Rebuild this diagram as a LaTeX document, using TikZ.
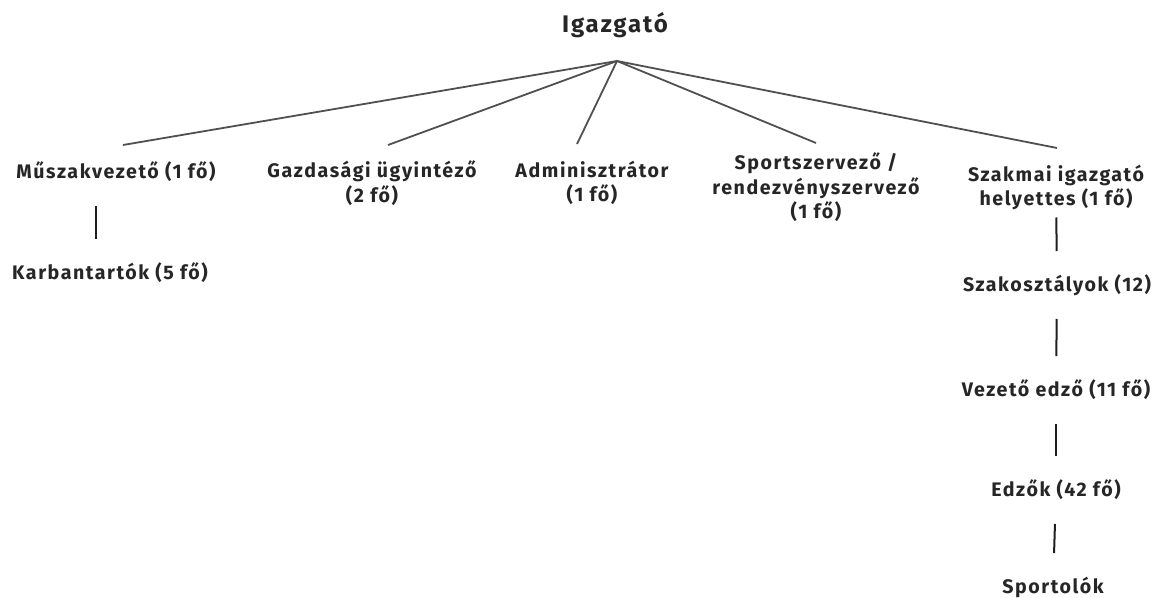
\documentclass[tikz,border=0pt]{standalone}
\usepackage{fontspec}
\setmainfont{Fira Sans}[LetterSpace=8]
\definecolor{txt}{HTML}{262626}
\definecolor{fanline}{HTML}{505050}
\definecolor{linkline}{HTML}{1E1E1E}
\begin{document}
\begin{tikzpicture}[x=0.5pt,y=-0.5pt]
\tikzstyle{every node}+=[inner sep=0pt, text=txt, align=center, font=\bfseries\fontsize{9.8}{12.25}\selectfont]
\tikzstyle{fan}=[draw=fanline, line width=0.9pt]
\tikzstyle{link}=[draw=linkline, line width=1pt, shorten <=17pt, shorten >=17pt]
\useasboundingbox (0,0) rectangle (1159,598);
\node (boss) at (615,25) {\fontsize{12}{14}\selectfont Igazgató};
\coordinate (apex) at (617,61);
\node (musz) at (116,172) {Műszakvezető (1 fő)};
\node (karb) at (110,273) {Karbantartók (5 fő)};
\node (gazd) at (372,183) {Gazdasági ügyintéző\\(2 fő)};
\node (admin) at (592,183) {Adminisztrátor\\(1 fő)};
\node (sport) at (816,187.5) {Sportszervező /\\rendezvényszervező\\(1 fő)};
\node (szakm) at (1056,187.5) {Szakmai igazgató\\helyettes (1 fő)};
\node (szako) at (1057,285) {Szakosztályok (12)};
\node (vezet) at (1056,390) {Vezető edző (11 fő)};
\node (edzok) at (1056,490) {Edzők (42 fő)};
\node (sportolok) at (1053,587) {Sportolók};
\draw[fan] (apex) -- ([xshift=3.5pt,yshift=13.5pt]musz.center);
\draw[fan] (apex) -- ([xshift=8pt,yshift=19pt]gazd.center);
\draw[fan] (apex) -- ([xshift=-7.5pt,yshift=19.5pt]admin.center);
\draw[fan] (apex) -- ([yshift=22.25pt]sport.center);
\draw[fan] (apex) -- ([xshift=0.5pt,yshift=19.75pt]szakm.center);
\draw[link] ([xshift=-10pt]musz.center) -- ([xshift=-7pt]karb.center);
\draw[link, shorten <=15pt] (szakm.center) -- (szako.center);
\draw[link] (szako.center) -- (vezet.center);
\draw[link] (vezet.center) -- (edzok.center);
\draw[link] (edzok.center) -- (sportolok.center);
\end{tikzpicture}
\end{document}
